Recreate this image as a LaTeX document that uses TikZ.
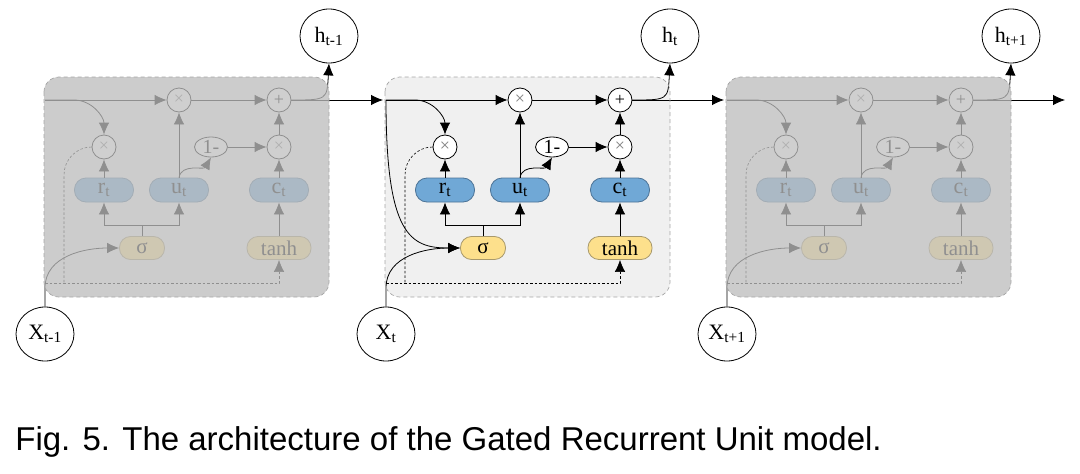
\documentclass[tikz,border=0pt]{standalone}
\usepackage{fontspec}
\setmainfont{Liberation Serif}
\newfontfamily\capfont{Liberation Sans}
\usetikzlibrary{arrows.meta, shapes.geometric}
\definecolor{cellfill}{HTML}{F0F0F0}
\definecolor{fadegray}{HTML}{C0C0C0}
\definecolor{gateblue}{HTML}{70A8D6}
\definecolor{gateline}{HTML}{4C7396}
\definecolor{actyellow}{HTML}{FDE08C}
\definecolor{actline}{HTML}{A8996C}

\begin{document}
\begin{tikzpicture}[
    x=1pt, y=-1pt, line width=0.8pt,
    gate/.style={rectangle, draw=gateline, fill=gateblue, rounded corners=11.5pt, minimum width=59pt, minimum height=24pt, inner sep=0pt, font=\fontsize{22}{24}\selectfont},
    act/.style={rectangle, draw=actline, fill=actyellow, rounded corners=11pt, minimum width=45pt, minimum height=23pt, inner sep=0pt, font=\fontsize{21}{23}\selectfont},
    op/.style={circle, draw, fill=white, minimum size=24pt, inner sep=0pt, font=\fontsize{18}{20}\selectfont},
    minus/.style={ellipse, draw, fill=white, minimum width=33pt, minimum height=20pt, inner sep=0pt, font=\fontsize{20}{22}\selectfont},
    io/.style={ellipse, draw, fill=white, minimum width=58pt, minimum height=54pt, inner sep=0pt, font=\fontsize{22}{24}\selectfont},
    arr/.style={-{Latex[length=12pt,width=10.5pt]}},
    dotline/.style={dash pattern=on 2.5pt off 2pt, line width=0.6pt},
    boxline/.style={draw=gray!70, dash pattern=on 4pt off 3pt, line width=0.7pt, rounded corners=15pt}
]
\useasboundingbox (0,0) rectangle (1080,474);

% GRU cells: previous, current, next
\foreach \n/\dx/\lab/\fade in {p/-341/t-1/0.75, t/0/t/0, n/341/t+1/0.75}{
  \begin{scope}[xshift=\dx]
    % cell box
    \fill[cellfill, rounded corners=15pt] (385,77) rectangle (670,297);
    % operators
    \coordinate (split\n) at (386,100);
    \node[op, text=gray] (mu\n) at (520,100) {×};
    \node[op] (add\n) at (620,100) {+};
    \node[op, text=gray] (mr\n) at (445,147) {×};
    \node[minus] (one\n) at (552,147) {1-};
    \node[op, text=gray] (mz\n) at (620,147) {×};
    % gates
    \node[gate] (r\n) at (445,190) {r\textsubscript{t}};
    \node[gate] (u\n) at (520,190) {u\textsubscript{t}};
    \node[gate] (c\n) at (620,190) {c\textsubscript{t}};
    \node[act] (sig\n) at (483,248) {σ};
    \node[act, minimum width=64pt] (tanh\n) at (620,248) {tanh};
    \coordinate (fork\n) at (483,225);
    % inputs and outputs
    \node[io] (h\n) at (670,36) {h\textsubscript{\lab}};
    \node[io] (x\n) at (386,334) {X\textsubscript{\lab}};
    % connections
    \draw[arr] (split\n) -- (mu\n);
    \draw[arr] (split\n) -- (415,100) to[out=0,in=90] (mr\n.north);
    \draw[arr] (mu\n) -- (add\n);
    \draw[arr] (add\n) -- (724,100);
    \draw[arr] (add\n.east) .. controls (668,100) .. (h\n.south);
    \draw[arr] (x\n.north) -- (386,288) to[out=90,in=180] (sig\n.west);
    \draw (sig\n) -- (fork\n);
    \draw[arr] (fork\n) -| (r\n);
    \draw[arr] (fork\n) -| (u\n);
    \draw[arr] (r\n) -- (mr\n);
    \draw[arr] (u\n) -- (mu\n);
    \draw[arr] (u\n.north) to[out=80,in=240] (one\n.south);
    \draw[arr] (one\n) -- (mz\n);
    \draw[arr] (c\n) -- (mz\n);
    \draw[arr] (mz\n) -- (add\n);
    \draw[arr] (tanh\n) -- (c\n);
    \draw[dotline] (mr\n.west) to[out=180,in=90] (405,175) -- (405,283);
    \draw[dotline, arr] (386,283) -| (tanh\n.south);
    % fade the neighbouring cells
    \fill[fadegray, fill opacity=\fade, rounded corners=15pt] (385,77) rectangle (670,297);
    \draw[boxline] (385,77) rectangle (670,297);
  \end{scope}
}

% hidden state into the gates of the current cell
\draw[arr] (splitt) .. controls (386,235) and (410,248) .. (sigt.west);

% caption
\node[anchor=base west, inner sep=0pt, font=\capfont\fontsize{33}{38}\selectfont] (cap) at (15,450) {Fig. 5. The architecture of the Gated Recurrent Unit model.};

\end{tikzpicture}
\end{document}
